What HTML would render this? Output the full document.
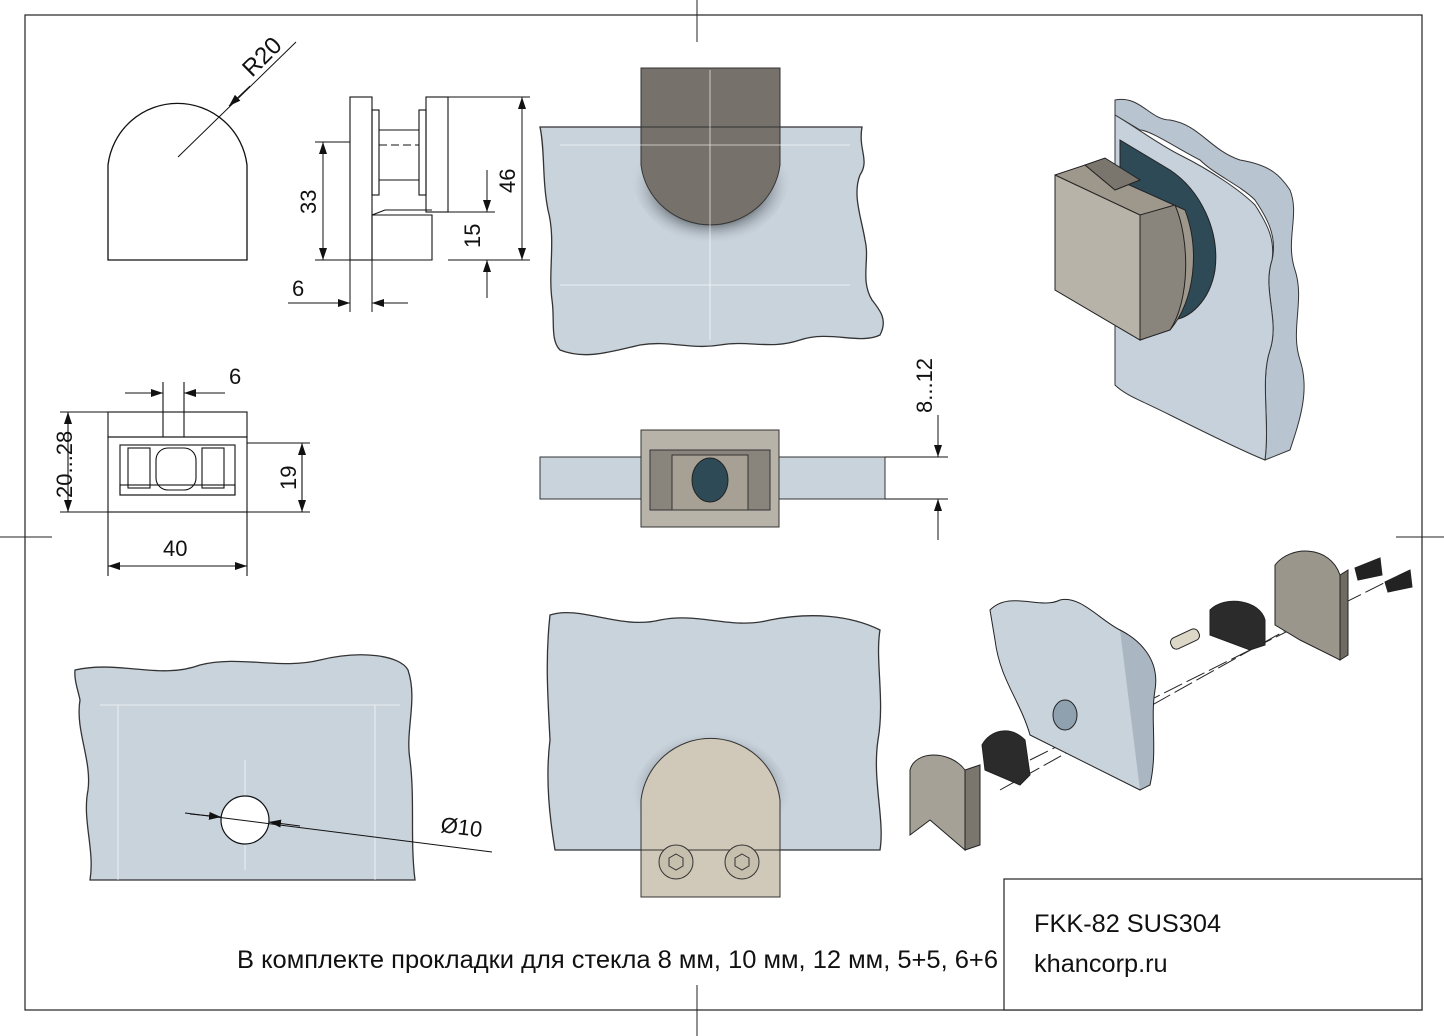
<!DOCTYPE html>
<html><head><meta charset="utf-8"><style>
html,body{margin:0;padding:0;background:#fff;}
svg{display:block;}
text{font-family:"Liberation Sans",sans-serif;fill:#111;}
</style></head><body>
<svg width="1444" height="1036" viewBox="0 0 1444 1036" xmlns="http://www.w3.org/2000/svg">
<defs>
<marker id="a" markerWidth="12" markerHeight="8" refX="12" refY="4" orient="auto" markerUnits="userSpaceOnUse"><path d="M0,0 L12,4 L0,8 Z" fill="#111"/></marker>
<radialGradient id="sh" cx="0.5" cy="0.5" r="0.5"><stop offset="0.6" stop-color="#3a3f45" stop-opacity="0.8"/><stop offset="1" stop-color="#c9d3dc" stop-opacity="0"/></radialGradient>
</defs>
<rect x="25" y="15" width="1397" height="995" fill="none" stroke="#222" stroke-width="1.2"/>
<path d="M697,0V42 M697,985V1036 M0,537H52 M1396,537H1444" stroke="#222" stroke-width="1"/>
<rect x="1004" y="879" width="418" height="131" fill="#fff" stroke="#222" stroke-width="1.2"/>
<text x="1034" y="932" font-size="25.3">FKK-82 SUS304</text>
<text x="1034" y="972" font-size="25.3">khancorp.ru</text>
<text x="237" y="968" font-size="25.4" textLength="761" lengthAdjust="spacingAndGlyphs">В комплекте прокладки для стекла 8 мм, 10 мм, 12 мм, 5+5, 6+6</text>

<path d="M108,260V165A70,70 0 0 1 247,165V260Z" fill="none" stroke="#111" stroke-width="1.3"/>
<line x1="178" y1="157" x2="296" y2="42" stroke="#111"/>
<line x1="250" y1="86" x2="229" y2="106" stroke="#111" marker-end="url(#a)"/>
<text x="0" y="0" font-size="24" transform="translate(252,78) rotate(-45)">R20</text>

<g stroke="#111" stroke-width="1.1" fill="none">
<rect x="350" y="97" width="22" height="163"/>
<rect x="372" y="110" width="7" height="85"/>
<rect x="426" y="97" width="22" height="115"/>
<rect x="419" y="110" width="7" height="85"/>
<line x1="379" y1="130" x2="419" y2="130"/><line x1="379" y1="180" x2="419" y2="180"/>
<line x1="379" y1="145" x2="419" y2="145" stroke-dasharray="8,4"/>
<path d="M372,215H432V260H372Z"/>
<path d="M372,215L385,210H432"/>
</g>
<g stroke="#111" stroke-width="1" fill="none">
<line x1="315" y1="142" x2="350" y2="142"/><line x1="315" y1="260" x2="350" y2="260"/>
<line x1="323" y1="150" x2="323" y2="142" marker-end="url(#a)"/><line x1="323" y1="250" x2="323" y2="260" marker-end="url(#a)"/>
<line x1="323" y1="150" x2="323" y2="250"/>
<line x1="448" y1="97" x2="530" y2="97"/><line x1="448" y1="260" x2="530" y2="260"/>
<line x1="522" y1="105" x2="522" y2="97" marker-end="url(#a)"/><line x1="522" y1="250" x2="522" y2="260" marker-end="url(#a)"/>
<line x1="522" y1="105" x2="522" y2="250"/>
<line x1="432" y1="212" x2="495" y2="212"/>
<line x1="487" y1="170" x2="487" y2="212" marker-end="url(#a)"/><line x1="487" y1="298" x2="487" y2="260" marker-end="url(#a)"/>
<line x1="350" y1="260" x2="350" y2="312"/><line x1="372" y1="260" x2="372" y2="312"/>
<line x1="288" y1="303" x2="350" y2="303" marker-end="url(#a)"/><line x1="408" y1="303" x2="372" y2="303" marker-end="url(#a)"/>
</g>
<text font-size="22" transform="translate(316,214) rotate(-90)">33</text>
<text font-size="22" transform="translate(515,193) rotate(-90)">46</text>
<text font-size="22" transform="translate(480,248) rotate(-90)">15</text>
<text x="292" y="296" font-size="22">6</text>

<path d="M540,127H862C858,150 870,160 860,175C852,195 862,220 865,240C870,260 860,280 872,300C880,310 888,320 880,335C860,345 830,330 800,340C770,350 750,340 720,345C690,350 670,340 640,345C610,352 585,360 560,350C550,340 555,320 552,300C548,270 556,240 548,210C542,180 545,150 540,127Z" fill="#c9d3dc" stroke="#333" stroke-width="1.3"/>
<path d="M630,127V175A82,82 0 0 0 792,175V127Z" fill="url(#sh)"/>
<path d="M641,68H780V165A70,68 0 0 1 641,165Z" fill="#76716b" stroke="#333"/>
<path d="M641,127H780" stroke="#333"/>
<g stroke="#fff" stroke-width="0.8" opacity="0.8"><line x1="710" y1="70" x2="710" y2="340"/><line x1="560" y1="145" x2="850" y2="145"/><line x1="560" y1="285" x2="850" y2="285"/></g>

<path d="M1115,100C1140,95 1150,120 1170,120C1200,125 1210,150 1240,160C1270,165 1280,175 1290,190C1300,215 1285,240 1295,270C1305,300 1290,330 1300,360C1310,390 1300,420 1290,450L1265,460C1270,420 1260,380 1270,350C1280,320 1262,290 1272,260C1278,235 1265,215 1255,200C1240,185 1215,175 1200,160C1180,150 1150,130 1140,130L1115,115Z" fill="#b8c4cf" stroke="#333"/>
<path d="M1115,115C1140,130 1160,145 1180,155C1210,170 1240,190 1255,205C1268,225 1275,240 1272,260C1262,290 1280,320 1270,350C1260,380 1270,420 1265,460C1240,450 1200,430 1170,415C1140,400 1125,395 1115,385Z" fill="#c6d1db" stroke="#333"/>
<path d="M1120,140L1170,170C1200,190 1220,230 1215,270C1210,300 1190,320 1170,320L1120,300Z" fill="#2f4a57" stroke="#222"/>
<path d="M1055,175L1085,165L1185,210C1200,250 1195,300 1170,330L1140,340L1055,290Z" fill="#9d978c" stroke="#222"/>
<path d="M1055,175L1140,215V340L1055,290Z" fill="#b8b3a8" stroke="#222"/>
<path d="M1140,215L1175,205C1190,240 1190,300 1170,330L1140,340Z" fill="#8a857c" stroke="#222"/>
<path d="M1085,165L1105,158L1140,180L1115,190Z" fill="#7a756d" stroke="#222"/>

<g stroke="#111" stroke-width="1.1" fill="none">
<rect x="108" y="412" width="139" height="25"/>
<rect x="108" y="437" width="139" height="75"/>
<rect x="120" y="445" width="115" height="50"/>
<rect x="128" y="448" width="22" height="40"/><rect x="202" y="448" width="22" height="40"/>
<rect x="156" y="448" width="40" height="42" rx="12"/>
<rect x="120" y="485" width="115" height="10"/>
<line x1="108" y1="412" x2="60" y2="412"/><line x1="108" y1="512" x2="60" y2="512"/>
<line x1="68" y1="420" x2="68" y2="412" marker-end="url(#a)"/><line x1="68" y1="504" x2="68" y2="512" marker-end="url(#a)"/>
<line x1="68" y1="420" x2="68" y2="504"/>
<line x1="247" y1="443" x2="310" y2="443"/><line x1="247" y1="512" x2="310" y2="512"/>
<line x1="302" y1="455" x2="302" y2="443" marker-end="url(#a)"/><line x1="302" y1="500" x2="302" y2="512" marker-end="url(#a)"/>
<line x1="302" y1="455" x2="302" y2="500"/>
<line x1="108" y1="512" x2="108" y2="576"/><line x1="247" y1="512" x2="247" y2="576"/>
<line x1="118" y1="566" x2="108" y2="566" marker-end="url(#a)"/><line x1="237" y1="566" x2="247" y2="566" marker-end="url(#a)"/>
<line x1="118" y1="566" x2="237" y2="566"/>
<line x1="163" y1="382" x2="163" y2="437"/><line x1="184" y1="382" x2="184" y2="437"/>
<line x1="125" y1="393" x2="163" y2="393" marker-end="url(#a)"/><line x1="225" y1="393" x2="184" y2="393" marker-end="url(#a)"/>
</g>
<text font-size="22" transform="translate(72,498) rotate(-90)">20...28</text>
<text font-size="22" transform="translate(296,490) rotate(-90)">19</text>
<text x="163" y="556" font-size="22">40</text>
<text x="229" y="384" font-size="22">6</text>

<rect x="540" y="457" width="345" height="42" fill="#c9d3dc" stroke="#333"/>
<rect x="641" y="430" width="138" height="97" fill="#b8b3a8" stroke="#333"/>
<rect x="650" y="450" width="120" height="60" fill="#8a857c" stroke="#333"/>
<rect x="672" y="455" width="76" height="55" fill="#a7a195" stroke="#333"/>
<ellipse cx="710" cy="480" rx="18" ry="22" fill="#2f4a57" stroke="#222"/>
<g stroke="#111" stroke-width="1" fill="none">
<line x1="885" y1="457" x2="948" y2="457"/><line x1="885" y1="499" x2="948" y2="499"/>
<line x1="938" y1="415" x2="938" y2="457" marker-end="url(#a)"/><line x1="938" y1="540" x2="938" y2="499" marker-end="url(#a)"/>
</g>
<text font-size="22" transform="translate(932,413) rotate(-90)">8...12</text>

<path d="M75,670C120,660 160,680 200,665C240,655 280,670 320,660C360,650 400,655 408,670C418,700 405,730 410,760C415,800 410,840 415,880H90C95,850 82,820 88,790C92,760 75,730 80,700C78,690 74,680 75,670Z" fill="#c9d3dc" stroke="#333" stroke-width="1.3"/>
<g stroke="#fff" stroke-width="0.8" opacity="0.8"><line x1="118" y1="705" x2="118" y2="880"/><line x1="375" y1="705" x2="375" y2="880"/><line x1="100" y1="705" x2="400" y2="705"/><line x1="245" y1="760" x2="245" y2="870"/></g>
<circle cx="245" cy="820" r="24" fill="#fff" stroke="#111" stroke-width="1.2"/>
<line x1="185" y1="813" x2="492" y2="852" stroke="#111"/>
<line x1="190" y1="814" x2="221" y2="817" stroke="#111" marker-end="url(#a)"/>
<line x1="300" y1="826" x2="269" y2="822" stroke="#111" marker-end="url(#a)"/>
<text font-size="22" transform="translate(440,832) rotate(7)">Ø10</text>

<path d="M550,615C580,605 620,630 660,620C700,612 730,630 770,620C810,612 850,615 880,630C875,660 885,700 878,740C872,780 885,820 880,850H555C550,820 545,780 550,740C548,700 545,660 550,615Z" fill="#c9d3dc" stroke="#333" stroke-width="1.3"/>
<path d="M630,850V800A82,82 0 0 1 792,800V850Z" fill="url(#sh)"/>
<path d="M641,897V800A70,70 0 0 1 780,800V897Z" fill="#d0c8b8" stroke="#333"/>
<line x1="641" y1="850" x2="780" y2="850" stroke="#333"/>
<circle cx="676" cy="862" r="17" fill="#c7bfae" stroke="#333"/><polygon points="676,854 683,858 683,866 676,870 669,866 669,858" fill="none" stroke="#333"/>
<circle cx="742" cy="862" r="17" fill="#c7bfae" stroke="#333"/><polygon points="742,854 749,858 749,866 742,870 735,866 735,858" fill="none" stroke="#333"/>

<g stroke="#222" stroke-width="1">
<line x1="1000" y1="790" x2="1340" y2="600" stroke-dasharray="20,5"/>
<line x1="1030" y1="760" x2="1400" y2="575" stroke-dasharray="20,5"/>
<path d="M990,610C1010,590 1040,610 1060,600C1080,595 1100,620 1120,630C1140,640 1150,670 1145,700C1140,730 1150,760 1140,790L1030,735C1020,700 1000,680 995,640Z" fill="#c9d3dc"/>
<path d="M1140,790L1150,785C1158,750 1150,720 1155,690C1160,660 1140,640 1120,630" fill="#aab6c2"/>
<ellipse cx="1065" cy="715" rx="12" ry="15" fill="#8fa0ae"/>
<path d="M910,770C915,750 950,750 965,770V850L930,820L910,835Z" fill="#a6a197"/>
<path d="M965,770L980,765V845L965,850Z" fill="#7a756d"/>
<path d="M982,745C990,730 1010,725 1025,740L1030,775L1020,785L985,770Z" fill="#2b2b2b"/>
<path d="M1210,610C1225,595 1260,600 1265,620V645L1250,650L1210,635Z" fill="#2b2b2b"/>
<rect x="1170" y="633" width="30" height="12" rx="5" transform="rotate(-25 1185 639)" fill="#ddd7c8"/>
<path d="M1275,565C1290,545 1330,545 1340,575V660L1300,640L1275,625Z" fill="#9b968c"/>
<path d="M1340,575L1348,570V655L1340,660Z" fill="#6f6a62"/>
<path d="M1355,568L1380,558L1382,575L1358,580Z" fill="#222"/>
<path d="M1385,582L1410,570L1412,587L1388,592Z" fill="#222"/>
</g>
</svg>
</body></html>
